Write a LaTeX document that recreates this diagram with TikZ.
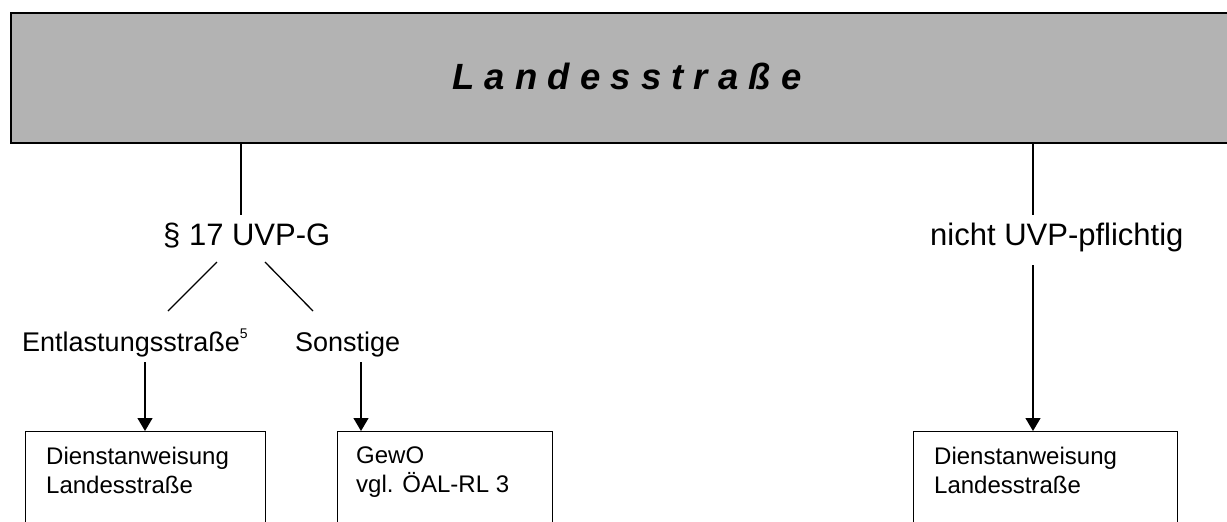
\documentclass[tikz,border=0pt]{standalone}
\usepackage{fontspec}
\setmainfont{Liberation Sans}
\usetikzlibrary{arrows.meta}
\definecolor{headgray}{HTML}{B3B3B3}
\tikzset{
  lbl/.style={inner sep=0pt, anchor=base west},
  boxtxt/.style={inner sep=0pt, anchor=base west, font=\fontsize{24}{29}\selectfont},
  leafbox/.style={draw=black, line width=1.3pt, inner sep=0pt, anchor=north west, minimum height=150pt},
  ln/.style={line width=1.3pt},
  arr/.style={line width=1.3pt, -{Triangle[width=15pt,length=13pt]}}
}
\begin{document}
\begin{tikzpicture}[x=1pt,y=-1pt]
\useasboundingbox (0,0) rectangle (1227,522);
\clip (0,0) rectangle (1227,522);
% header
\node[draw=black, fill=headgray, line width=2.2pt, anchor=north west, minimum width=1240pt, minimum height=130pt, inner sep=0pt] (head) at (10,12) {};
\node[inner sep=0pt, font=\fontsize{36.5}{40}\selectfont\bfseries\itshape] (title) at (627,76) {L a n d e s s t r a ß e};
% level 1 labels
\node[lbl, font=\fontsize{31}{36}\selectfont] (uvp) at (163,245) {§ 17 UVP-G};
\node[lbl, font=\fontsize{31}{36}\selectfont] (nicht) at (930,245) {nicht UVP-pflichtig};
% level 2 labels
\node[lbl, font=\fontsize{27}{30}\selectfont] (entl) at (22,351) {Entlastungsstraße\raisebox{13pt}{\fontsize{14}{16}\selectfont 5}};
\node[lbl, font=\fontsize{27}{30}\selectfont] (sonst) at (295,351) {Sonstige};
% leaf boxes
\node[leafbox, minimum width=240pt] (b1) at (25,431) {};
\node[leafbox, minimum width=215pt] (b2) at (337,431) {};
\node[leafbox, minimum width=264pt] (b3) at (913,431) {};
\node[boxtxt] (t1a) at (46,464) {Dienstanweisung};
\node[boxtxt] (t1b) at (46,493) {Landesstraße};
\node[boxtxt] (t2a) at (356,463) {GewO};
\node[boxtxt] (t2b) at (356,492) {vgl. ÖAL-RL 3};
\node[boxtxt] (t3a) at (934,464) {Dienstanweisung};
\node[boxtxt] (t3b) at (934,493) {Landesstraße};
% coordinates
\coordinate (h1) at (241,142);
\coordinate (u1) at (241,215);
\coordinate (h2) at (1033,142);
\coordinate (u2) at (1033,215);
\coordinate (dl1) at (217,262);
\coordinate (dl2) at (168,311);
\coordinate (dr1) at (265,262);
\coordinate (dr2) at (313,311);
\coordinate (a1) at (145,362);
\coordinate (a2) at (361,362);
\coordinate (a3) at (1033,265);
% connectors
\draw[ln] (h1) -- (u1);
\draw[ln] (h2) -- (u2);
\draw[ln] (dl1) -- (dl2);
\draw[ln] (dr1) -- (dr2);
\draw[arr] (a1) -- (a1 |- b1.north);
\draw[arr] (a2) -- (a2 |- b2.north);
\draw[arr] (a3) -- (a3 |- b3.north);
\end{tikzpicture}
\end{document}
